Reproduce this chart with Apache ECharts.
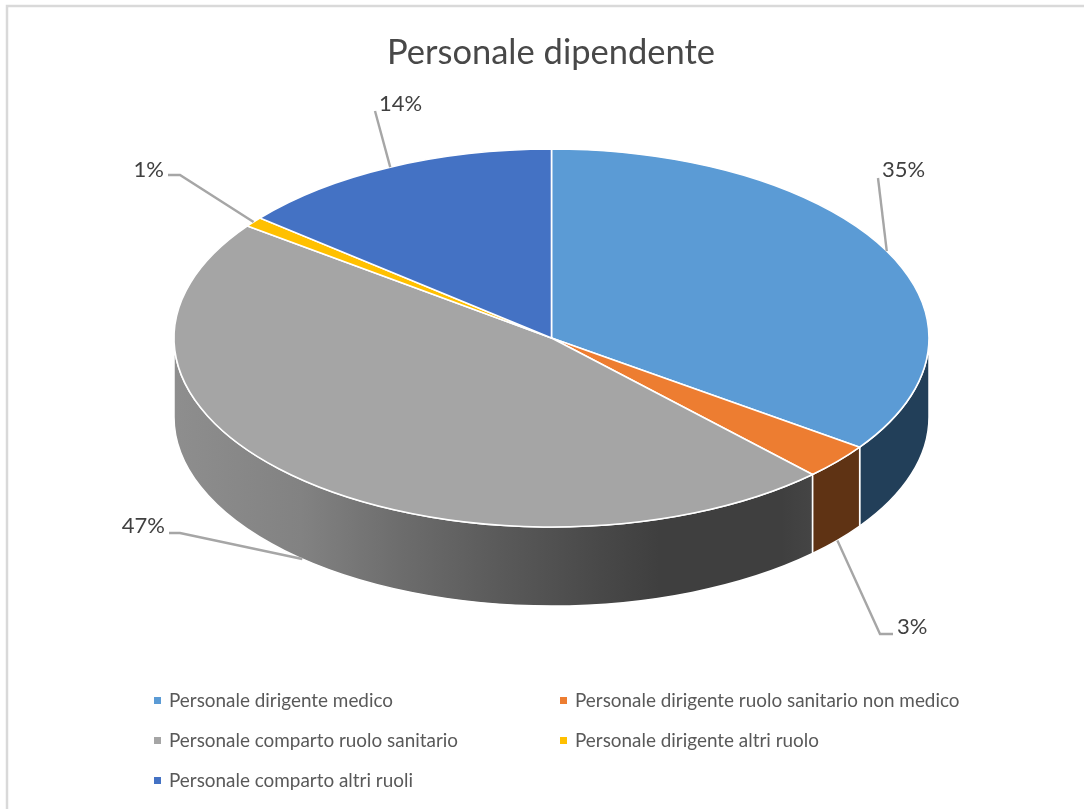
<!DOCTYPE html>
<html>
<head>
<meta charset="utf-8">
<style>
  html, body { margin: 0; padding: 0; background: #fff; }
  #chart { width: 1084px; height: 809px; }
</style>
<script src="https://cdn.jsdelivr.net/npm/echarts@6/dist/echarts.min.js"></script>
</head>
<body>
<div id="chart"></div>
<script>
const categories = [
  'Personale dirigente medico',
  'Personale dirigente ruolo sanitario non medico',
  'Personale comparto ruolo sanitario',
  'Personale dirigente altri ruolo',
  'Personale comparto altri ruoli'
]
const values = [34.8, 3.05, 47.25, 0.85, 14.05]
const topColors = ['#5b9bd5', '#ed7d31', '#a5a5a5', '#ffc000', '#4472c4']
const wallColors = ['#223f59', '#5f3314', '#717171', '#6b5000', '#283f73']

// pie geometry, page pixels
const cx = 551.5
const cy = 338
const rx = 377.5
const ry = 189
const depth = 79
const FONT = 'Lato, "Open Sans", sans-serif'

// where each leader goes after leaving the pie: elbow, end, text anchor
const leaders = [
  { elbow: [878, 178], end: [878, 178], text: [882, 170], align: 'left', onWall: false },
  { elbow: [880, 634], end: [893, 634], text: [897, 627], align: 'left', onWall: true },
  { elbow: [180, 533], end: [169, 533], text: [165, 526], align: 'right', onWall: true },
  { elbow: [180, 175], end: [168, 175], text: [164, 170], align: 'right', onWall: false },
  { elbow: [375, 111], end: [375, 111], text: [379, 104], align: 'left', onWall: false }
]

const total = values.reduce((a, b) => a + b, 0)
const point = (t, dy) => [cx + rx * Math.sin(t), cy - ry * Math.cos(t) + (dy || 0)]
const angleAt = v => v / total * Math.PI * 2

function arcTo (p, large, sweep) {
  return 'A ' + rx + ' ' + ry + ' 0 ' + (large ? 1 : 0) + ' ' + sweep + ' ' + p[0] + ' ' + p[1]
}

function renderSlice (i) {
  const before = values.slice(0, i).reduce((a, b) => a + b, 0)
  const a = angleAt(before)
  const b = angleAt(before + values[i])
  const mid = (a + b) / 2
  const children = []

  // side wall only shows on the front half of the rim
  const wa = Math.max(a, Math.PI / 2)
  const wb = Math.min(b, Math.PI * 1.5)
  if (wb > wa) {
    const p1 = point(wa), p2 = point(wb), p3 = point(wb, depth), p4 = point(wa, depth)
    let fill = wallColors[i]
    if (i === 2) {
      fill = new echarts.graphic.LinearGradient(0, 0, 1, 0, [
        { offset: 0, color: '#8e8e8e' },
        { offset: 0.2, color: '#828282' },
        { offset: 0.36, color: '#6c6c6c' },
        { offset: 0.51, color: '#5a5a5a' },
        { offset: 0.67, color: '#484848' },
        { offset: 0.76, color: '#3f3f3f' },
        { offset: 0.95, color: '#3f3f3f' },
        { offset: 1, color: '#454545' }
      ])
    }
    children.push({
      type: 'path',
      shape: {
        pathData: 'M ' + p1.join(' ') + ' ' + arcTo(p2, false, 1) + ' L ' + p3.join(' ') + ' ' + arcTo(p4, false, 0) + ' Z'
      },
      style: { fill: fill, stroke: '#fff', lineWidth: 1.5 }
    })
  }

  const s = point(a), e = point(b)
  children.push({
    type: 'path',
    shape: {
      pathData: 'M ' + cx + ' ' + cy + ' L ' + s.join(' ') + ' ' + arcTo(e, b - a > Math.PI, 1) + ' Z'
    },
    style: { fill: topColors[i], stroke: '#fff', lineWidth: 1.6 }
  })

  const l = leaders[i]
  children.push({
    type: 'polyline',
    shape: { points: [point(mid, l.onWall ? depth : 0), l.elbow, l.end] },
    style: { fill: null, stroke: '#a6a6a6', lineWidth: 2.4 }
  })
  children.push({
    type: 'text',
    style: {
      text: Math.round(values[i]) + '%',
      x: l.text[0],
      y: l.text[1],
      align: l.align,
      verticalAlign: 'middle',
      fill: '#404040',
      fontSize: 22,
      fontFamily: FONT
    }
  })
  return { type: 'group', children: children }
}

const chart = echarts.init(document.getElementById('chart'))
const legendBase = {
  orient: 'vertical',
  icon: 'rect',
  itemWidth: 7,
  itemHeight: 7,
  itemGap: 21,
  selectedMode: false,
  textStyle: { color: '#595959', fontSize: 18.9, fontFamily: FONT, padding: [0, 0, 0, 3] }
}

chart.setOption({
  animation: false,
  backgroundColor: '#fff',
  title: {
    text: 'Personale dipendente',
    left: 382,
    top: 30,
    textStyle: { color: '#484848', fontSize: 34.5, fontWeight: 'normal', fontFamily: FONT }
  },
  legend: [
    Object.assign({}, legendBase, { left: 149, top: 686, data: [categories[0], categories[2], categories[4]] }),
    Object.assign({}, legendBase, { left: 555, top: 686, data: [categories[1], categories[3]] })
  ],
  graphic: [{
    type: 'polyline',
    silent: true,
    shape: { points: [[7, 809], [7, 6], [1084, 6]] },
    style: { fill: null, stroke: '#d9d9d9', lineWidth: 2.5 }
  }],
  series: categories.map((name, i) => ({
    type: 'custom',
    name: name,
    coordinateSystem: 'none',
    itemStyle: { color: topColors[i] },
    data: [values[i]],
    renderItem: () => renderSlice(i)
  }))
})
</script>
</body>
</html>
